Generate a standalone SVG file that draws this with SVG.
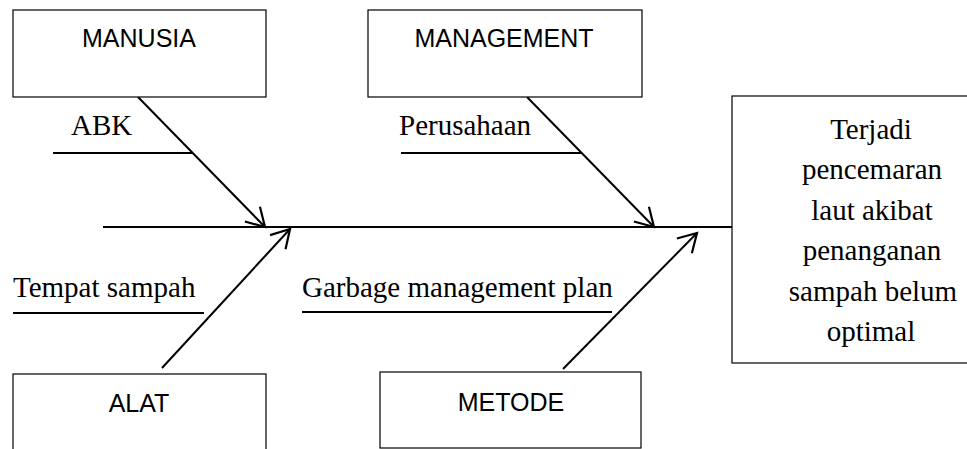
<svg xmlns="http://www.w3.org/2000/svg" width="967" height="449" viewBox="0 0 967 449">
<style>
.box{fill:#fff;stroke:#000;stroke-width:1.2}
.sans{font-family:"Liberation Sans",Arial,sans-serif;font-size:25px;fill:#000;text-anchor:middle}
.serif{font-family:"Liberation Serif","Times New Roman",serif;font-size:29px;fill:#000}
.mid{text-anchor:middle}
.ln{stroke:#000;stroke-width:2;fill:none}
</style>
<defs>
<marker id="arr" markerUnits="userSpaceOnUse" markerWidth="30" markerHeight="30" viewBox="-25 -15 30 30" refX="0" refY="0" orient="auto">
<path d="M-18,-10.5 L0,0 L-18,10.5" fill="none" stroke="#000" stroke-width="2.2"/>
</marker>
</defs>
<rect width="967" height="449" fill="#fff"/>
<g id="connectors">
<line class="ln" x1="103" y1="227" x2="732" y2="227"/>
<line class="ln" x1="138" y1="97" x2="265" y2="227" marker-end="url(#arr)"/>
<line class="ln" x1="527" y1="97" x2="654" y2="227" marker-end="url(#arr)"/>
<line class="ln" x1="162" y1="368" x2="290" y2="229" marker-end="url(#arr)"/>
<line class="ln" x1="563" y1="369" x2="697" y2="233" marker-end="url(#arr)"/>
<line class="ln" x1="53" y1="153" x2="193" y2="153"/>
<line class="ln" x1="401" y1="153" x2="582" y2="153"/>
<line class="ln" x1="13" y1="313" x2="204" y2="313"/>
<line class="ln" x1="302" y1="312" x2="612" y2="312"/>
</g>
<g id="manusia">
<rect class="box" x="13" y="10" width="253" height="87"/>
<text class="sans" x="139" y="47">MANUSIA</text>
</g>
<g id="management">
<rect class="box" x="368" y="10" width="274" height="87"/>
<text class="sans" x="504" y="47">MANAGEMENT</text>
</g>
<g id="alat">
<rect class="box" x="13" y="374" width="253" height="90"/>
<text class="sans" x="139" y="412">ALAT</text>
</g>
<g id="metode">
<rect class="box" x="380" y="372" width="261" height="76"/>
<text class="sans" x="511" y="411">METODE</text>
</g>
<g id="effect">
<rect class="box" x="732" y="96" width="280" height="267"/>
<text class="serif mid" x="871" y="139">Terjadi</text>
<text class="serif mid" x="872" y="179">pencemaran</text>
<text class="serif mid" x="872" y="220">laut akibat</text>
<text class="serif mid" x="872" y="260">penanganan</text>
<text class="serif mid" x="873" y="301">sampah belum</text>
<text class="serif mid" x="871" y="341">optimal</text>
</g>
<g id="labels">
<text class="serif" x="71" y="135">ABK</text>
<text class="serif" x="399" y="135">Perusahaan</text>
<text class="serif" x="13" y="297">Tempat sampah</text>
<text class="serif" x="302" y="297">Garbage management plan</text>
</g>
</svg>
